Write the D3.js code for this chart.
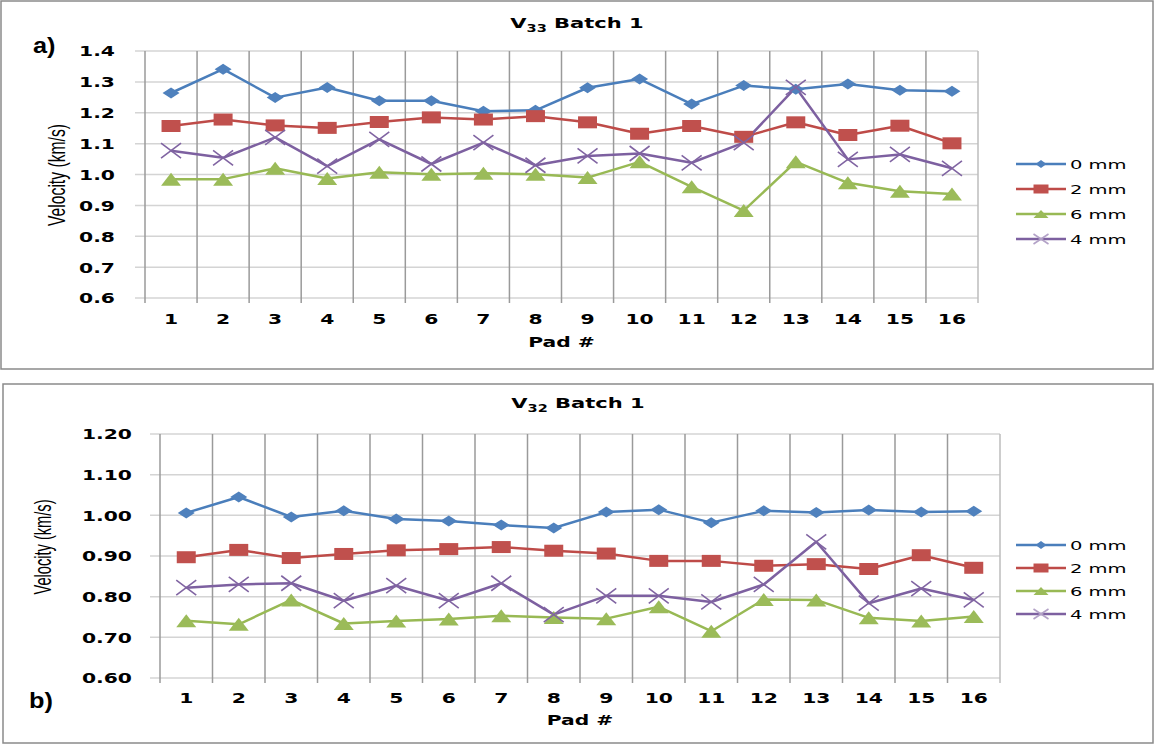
<!DOCTYPE html>
<html>
<head>
<meta charset="utf-8">
<script src="https://cdn.jsdelivr.net/npm/d3@7"></script>
<style>
  body { margin: 0; background: #fff; }
  text { font-family: "DejaVu Sans", Verdana, sans-serif; fill: #000; }
</style>
</head>
<body>
<svg width="1154" height="745"></svg>
<script>
// pad numbers along the x axis
var pads = ['1', '2', '3', '4', '5', '6', '7', '8', '9', '10', '11', '12', '13', '14', '15', '16'];
var seriesNames = ['0 mm', '2 mm', '6 mm', '4 mm'];

// V33 batch 1 (km/s)
var v33_0mm = [1.264, 1.341, 1.249, 1.282, 1.239, 1.239, 1.205, 1.208, 1.281, 1.309, 1.228, 1.288, 1.276, 1.293, 1.273, 1.270];
var v33_2mm = [1.157, 1.178, 1.159, 1.151, 1.170, 1.185, 1.178, 1.189, 1.169, 1.132, 1.157, 1.122, 1.169, 1.128, 1.158, 1.101];
var v33_6mm = [0.985, 0.985, 1.020, 0.987, 1.007, 1.001, 1.004, 1.001, 0.990, 1.041, 0.960, 0.883, 1.041, 0.973, 0.946, 0.937];
var v33_4mm = [1.077, 1.054, 1.120, 1.027, 1.114, 1.034, 1.103, 1.030, 1.060, 1.068, 1.038, 1.103, 1.282, 1.049, 1.065, 1.020];
var v33Ticks = [0.6, 0.7, 0.8, 0.9, 1.0, 1.1, 1.2, 1.3, 1.4];

// V32 batch 1 (km/s)
var v32_0mm = [1.006, 1.045, 0.996, 1.011, 0.991, 0.986, 0.976, 0.969, 1.008, 1.014, 0.982, 1.011, 1.007, 1.013, 1.008, 1.010];
var v32_2mm = [0.897, 0.915, 0.895, 0.905, 0.914, 0.917, 0.922, 0.913, 0.906, 0.888, 0.888, 0.876, 0.880, 0.868, 0.902, 0.871];
var v32_6mm = [0.741, 0.732, 0.792, 0.734, 0.740, 0.745, 0.753, 0.749, 0.746, 0.775, 0.715, 0.793, 0.792, 0.748, 0.740, 0.751];
var v32_4mm = [0.822, 0.830, 0.833, 0.790, 0.827, 0.790, 0.833, 0.756, 0.802, 0.802, 0.787, 0.830, 0.935, 0.784, 0.820, 0.792];
var v32Ticks = [0.6, 0.7, 0.8, 0.9, 1.0, 1.1, 1.2];

var lineColors = ['#4a7ebb', '#be4b48', '#98b954', '#7d60a0'];
var markColors = ['#4f81bd', '#c0504d', '#9bbb59', '#8064a2'];
var markTypes = ['diamond', 'square', 'triangle', 'cross'];

var SX = 1.45; // the picture is stretched sideways, text too

var svg = d3.select('svg');

function stretched(parent, x, y, str, size, weight, anchor, sx) {
  return parent.append('text')
    .attr('transform', 'translate(' + x + ',' + y + ') scale(' + (sx || SX) + ',1)')
    .attr('text-anchor', anchor || 'middle')
    .attr('dy', '0.35em')
    .style('font-size', size + 'px')
    .style('font-weight', weight || 'bold')
    .text(str);
}

function markerPath(type, w, h) {
  var a = w / 2, b = h / 2;
  if (type == 'diamond') return 'M0,' + (-b) + 'L' + a + ',0L0,' + b + 'L' + (-a) + ',0Z';
  if (type == 'square') return 'M' + (-a) + ',' + (-b) + 'H' + a + 'V' + b + 'H' + (-a) + 'Z';
  if (type == 'triangle') return 'M0,' + (-b) + 'L' + a + ',' + b + 'H' + (-a) + 'Z';
  return 'M' + (-a) + ',' + (-b) + 'L' + a + ',' + b + 'M' + a + ',' + (-b) + 'L' + (-a) + ',' + b;
}
var markSize = { diamond: [17, 11], square: [19, 12], triangle: [20, 13], cross: [20, 15] };
var legSize = { diamond: [11, 8], square: [15, 9], triangle: [15, 8], cross: [15, 10] };

function drawMarker(g, type, color, x, y, size) {
  var s = size[type];
  var p = g.append('path')
    .attr('transform', 'translate(' + x + ',' + y + ')')
    .attr('d', markerPath(type, s[0], s[1]));
  if (type == 'cross') p.attr('fill', 'none').attr('stroke', color).attr('stroke-width', 1.6);
  else p.attr('fill', color);
}

function drawPanel(c) {
  var g = svg.append('g');

  g.append('rect')
    .attr('x', c.box[0]).attr('y', c.box[1]).attr('width', c.box[2]).attr('height', c.box[3])
    .attr('fill', '#fff').attr('stroke', '#8a8a8a').attr('stroke-width', 1.5);

  var x = d3.scaleBand().domain(pads).range([c.x0, c.x1]);
  var y = d3.scaleLinear().domain([c.ticks[0], c.ticks[c.ticks.length - 1]]).range([c.yBot, c.yTop]);

  // horizontal gridlines, running past the axis as tick marks
  g.selectAll('.hgrid').data(c.ticks).enter().append('line')
    .attr('x1', c.x0 - 10).attr('x2', c.x1)
    .attr('y1', function (d) { return y(d); }).attr('y2', function (d) { return y(d); })
    .attr('stroke', '#d4d4d4').attr('stroke-width', 1.5);

  // vertical gridlines on category edges
  var edges = pads.map(function (p) { return x(p); }).concat([c.x1]);
  g.selectAll('.vgrid').data(edges).enter().append('line')
    .attr('x1', function (d) { return d; }).attr('x2', function (d) { return d; })
    .attr('y1', c.yTop).attr('y2', c.yBot + 5)
    .attr('stroke', function (d, i) { return i == edges.length - 1 ? '#bdbdbd' : '#9a9a9a'; })
    .attr('stroke-width', 1.5);

  // y axis labels
  var yAxis = g.append('g').attr('transform', 'translate(' + c.x0 + ',0)')
    .call(d3.axisLeft(y).tickValues(c.ticks).tickFormat(d3.format(c.fmt)).tickSize(0));
  yAxis.select('.domain').remove();
  yAxis.selectAll('text')
    .attr('x', 0).attr('dy', '0.35em')
    .attr('transform', 'translate(' + (-c.yLabGap) + ',0) scale(' + SX + ',1)')
    .style('font-family', '"DejaVu Sans", Verdana, sans-serif')
    .style('font-size', '14px').style('font-weight', 'bold').attr('fill', '#000');

  // x axis labels
  var xAxis = g.append('g').attr('transform', 'translate(0,' + c.yBot + ')')
    .call(d3.axisBottom(x).tickSize(0));
  xAxis.select('.domain').remove();
  xAxis.selectAll('text')
    .attr('y', c.xLabGap).attr('dy', '0.35em')
    .attr('transform', 'scale(' + SX + ',1)')
    .style('font-family', '"DejaVu Sans", Verdana, sans-serif')
    .style('font-size', '14px').style('font-weight', 'bold').attr('fill', '#000');

  // series
  var line = d3.line()
    .x(function (d, i) { return x(pads[i]) + x.bandwidth() / 2; })
    .y(function (d) { return y(d); });

  c.series.forEach(function (vals, k) {
    g.append('path').datum(vals)
      .attr('d', line)
      .attr('fill', 'none')
      .attr('stroke', lineColors[k])
      .attr('stroke-width', 2.5)
      .attr('stroke-linejoin', 'round');
  });
  c.series.forEach(function (vals, k) {
    vals.forEach(function (v, i) {
      drawMarker(g, markTypes[k], markColors[k], x(pads[i]) + x.bandwidth() / 2, y(v), markSize);
    });
  });

  // title with subscript
  var t = g.append('text')
    .attr('transform', 'translate(' + c.titleX + ',' + c.titleY + ') scale(' + SX + ',1)')
    .attr('text-anchor', 'middle').attr('dy', '0.35em')
    .style('font-size', '14.5px').style('font-weight', 'bold');
  t.append('tspan').text('V');
  t.append('tspan').attr('dy', 4).style('font-size', '10px').text(c.sub);
  t.append('tspan').attr('dy', -4).text(' Batch 1');

  stretched(g, (c.x0 + c.x1) / 2, c.padY, 'Pad #', 14, 'bold', 'middle');

  // rotated axis title; its height is stretched on screen like the rest
  g.append('text')
    .attr('transform', 'translate(' + c.yTitle[0] + ',' + c.yTitle[1] + ') rotate(-90) scale(1,' + SX + ')')
    .attr('text-anchor', 'middle').attr('dy', '0.35em')
    .attr('textLength', c.yTitleLen).attr('lengthAdjust', 'spacingAndGlyphs')
    .style('font-family', '"Liberation Sans Narrow", "Liberation Sans", Arial, sans-serif')
    .style('font-size', '16px')
    .text('Velocity (km/s)');

  g.append('text')
    .attr('transform', 'translate(' + c.tag[0] + ',' + c.tag[1] + ') scale(1.15,1)')
    .attr('dy', '0.35em')
    .style('font-family', '"Liberation Sans", Arial, sans-serif')
    .style('font-size', '22px').style('font-weight', 'bold')
    .text(c.tagText);

  // legend
  var lg = g.append('g');
  seriesNames.forEach(function (name, k) {
    var ly = c.legY + k * c.legStep;
    lg.append('line').attr('x1', 1016).attr('x2', 1066).attr('y1', ly).attr('y2', ly)
      .attr('stroke', lineColors[k]).attr('stroke-width', 2.5);
    drawMarker(lg, markTypes[k], k == 3 ? '#b3a2c7' : markColors[k], 1041, ly, legSize);
    stretched(lg, 1070, ly, name, 13, 'normal', 'start', 1.5);
  });
}

drawPanel({
  box: [1, 1, 1152, 368], x0: 145, x1: 978, yTop: 51, yBot: 298,
  ticks: v33Ticks, fmt: '.1f', series: [v33_0mm, v33_2mm, v33_6mm, v33_4mm],
  yLabGap: 30, xLabGap: 21, sub: '33', titleX: 577, titleY: 23, padY: 342,
  yTitle: [57, 175], yTitleLen: 102, tag: [33, 45], tagText: 'a)',
  legY: 164, legStep: 25
});

drawPanel({
  box: [3, 384, 1150, 359], x0: 160, x1: 1000, yTop: 434, yBot: 678,
  ticks: v32Ticks, fmt: '.2f', series: [v32_0mm, v32_2mm, v32_6mm, v32_4mm],
  yLabGap: 28, xLabGap: 20, sub: '32', titleX: 578, titleY: 403, padY: 720,
  yTitle: [43, 547], yTitleLen: 95, tag: [29, 700], tagText: 'b)',
  legY: 545, legStep: 23
});
</script>
</body>
</html>
